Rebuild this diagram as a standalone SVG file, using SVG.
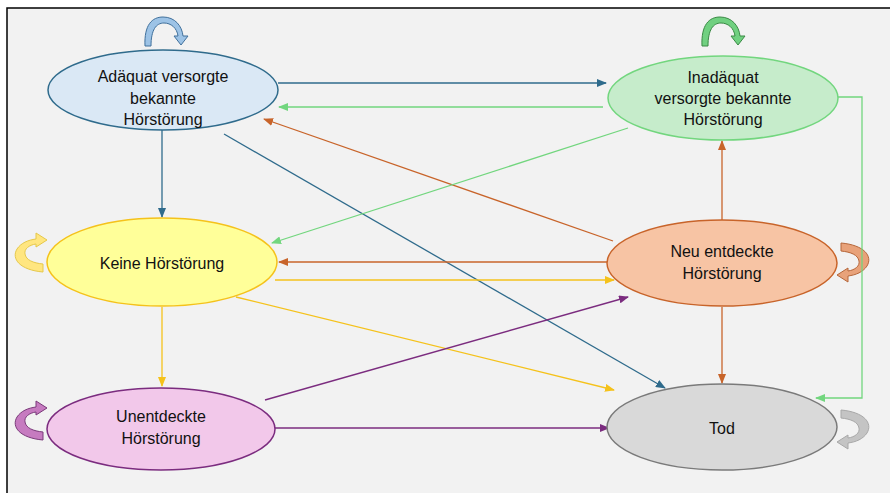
<svg xmlns="http://www.w3.org/2000/svg" width="890" height="493" viewBox="0 0 890 493">
<style>
text{font-family:"Liberation Sans",Arial,sans-serif;font-size:16px;fill:#111;text-anchor:middle}
.c{fill:none;stroke-width:1.3}
.b{stroke:#2f6b8c}.g{stroke:#72d67e}.o{stroke:#c8642a}.y{stroke:#f5c21b}.p{stroke:#7b2c7f}
</style>
<defs>
<marker id="mb" markerUnits="userSpaceOnUse" markerWidth="10" markerHeight="8" refX="9" refY="4" orient="auto"><path d="M0,0 L10,4 L0,8 z" fill="#2f6b8c"/></marker>
<marker id="mg" markerUnits="userSpaceOnUse" markerWidth="10" markerHeight="8" refX="9" refY="4" orient="auto"><path d="M0,0 L10,4 L0,8 z" fill="#72d67e"/></marker>
<marker id="mo" markerUnits="userSpaceOnUse" markerWidth="10" markerHeight="8" refX="9" refY="4" orient="auto"><path d="M0,0 L10,4 L0,8 z" fill="#c8642a"/></marker>
<marker id="my" markerUnits="userSpaceOnUse" markerWidth="10" markerHeight="8" refX="9" refY="4" orient="auto"><path d="M0,0 L10,4 L0,8 z" fill="#f5c21b"/></marker>
<marker id="mp" markerUnits="userSpaceOnUse" markerWidth="10" markerHeight="8" refX="9" refY="4" orient="auto"><path d="M0,0 L10,4 L0,8 z" fill="#7b2c7f"/></marker>
<path id="arch" d="M145,46 C144,25 152,17 163,17 C175,17 182,26 183,36 L188,36 L181,45 L174,36 L178,36 C177,28 171,23 164,23 C156,23 151,30 151,46 Z"/>
<path id="cl" d="M43,272 C20,270 11,259 17,249 C21,243 28,240 36,239 L36,233 L47,240 L36,247 L36,244 C29,245 24,249 25,254 C26,260 33,263 43,264 Z"/>
</defs>
<rect x="0" y="0" width="890" height="493" fill="#ffffff"/>
<rect x="7" y="8" width="895" height="500" fill="#f2f2f2" stroke="#000" stroke-width="1.5"/>

<g id="loops" stroke-width="1">
<use href="#arch" fill="#9dc3e6" stroke="#41719c"/>
<use href="#arch" transform="translate(557,0)" fill="#70d080" stroke="#3a8a45"/>
<use href="#cl" fill="#ffe680" stroke="#e6c84a"/>
<use href="#cl" transform="translate(0,168)" fill="#c67bc0" stroke="#7a3a7a"/>
<use href="#cl" transform="matrix(-1,0,0,-1,884,515)" fill="#e8a27a" stroke="#b5663a"/>
<use href="#cl" transform="matrix(-1,0,0,-1,884,682)" fill="#c4c4c4" stroke="#a8a8a8"/>
</g>

<g id="connectors">
<line class="c b" x1="278" y1="83" x2="606" y2="83" marker-end="url(#mb)"/>
<line class="c g" x1="603" y1="107" x2="279" y2="107" marker-end="url(#mg)"/>
<line class="c o" x1="613" y1="241" x2="264" y2="119" marker-end="url(#mo)"/>
<line class="c b" x1="162" y1="130" x2="162" y2="217" marker-end="url(#mb)"/>
<line class="c b" x1="224" y1="134" x2="665" y2="388" marker-end="url(#mb)"/>
<line class="c g" x1="628" y1="128" x2="272" y2="243" marker-end="url(#mg)"/>
<path class="c g" d="M838,97 H862 V398 H816" marker-end="url(#mg)"/>
<line class="c o" x1="722" y1="220" x2="722" y2="141" marker-end="url(#mo)"/>
<line class="c o" x1="607" y1="262" x2="279" y2="262" marker-end="url(#mo)"/>
<line class="c y" x1="275" y1="280" x2="614" y2="280" marker-end="url(#my)"/>
<line class="c y" x1="162" y1="307" x2="162" y2="386" marker-end="url(#my)"/>
<line class="c y" x1="236" y1="297" x2="614" y2="390" marker-end="url(#my)"/>
<line class="c o" x1="722" y1="307" x2="722" y2="383" marker-end="url(#mo)"/>
<line class="c p" x1="265" y1="400" x2="628" y2="297" marker-end="url(#mp)"/>
<line class="c p" x1="275" y1="428" x2="609" y2="428" marker-end="url(#mp)"/>
</g>

<g id="n-adaequat">
<ellipse cx="163" cy="90" rx="115" ry="40" fill="#dae8f5" stroke="#2f6b8c" stroke-width="1.5"/>
<text x="163" y="82">Adäquat versorgte</text>
<text x="163" y="104">bekannte</text>
<text x="163" y="125">Hörstörung</text>
</g>
<g id="n-inadaequat">
<ellipse cx="723" cy="98" rx="115" ry="42" fill="#c6eccb" stroke="#72d67e" stroke-width="1.5"/>
<text x="723" y="83">Inadäquat</text>
<text x="723" y="104">versorgte bekannte</text>
<text x="723" y="125">Hörstörung</text>
</g>
<g id="n-keine">
<ellipse cx="162" cy="262" rx="115" ry="44" fill="#ffff99" stroke="#f5c21b" stroke-width="1.5"/>
<text x="162" y="269">Keine Hörstörung</text>
</g>
<g id="n-neu">
<ellipse cx="722" cy="263" rx="115" ry="43" fill="#f7c4a4" stroke="#c8642a" stroke-width="1.5"/>
<text x="722" y="257">Neu entdeckte</text>
<text x="722" y="279">Hörstörung</text>
</g>
<g id="n-unentdeckt">
<ellipse cx="161" cy="429" rx="114" ry="41" fill="#f2c8ea" stroke="#7b2c7f" stroke-width="1.5"/>
<text x="161" y="422">Unentdeckte</text>
<text x="161" y="444">Hörstörung</text>
</g>
<g id="n-tod">
<ellipse cx="722" cy="427" rx="115" ry="43" fill="#d9d9d9" stroke="#7a7a7a" stroke-width="1.5"/>
<text x="722" y="434">Tod</text>
</g>
</svg>
